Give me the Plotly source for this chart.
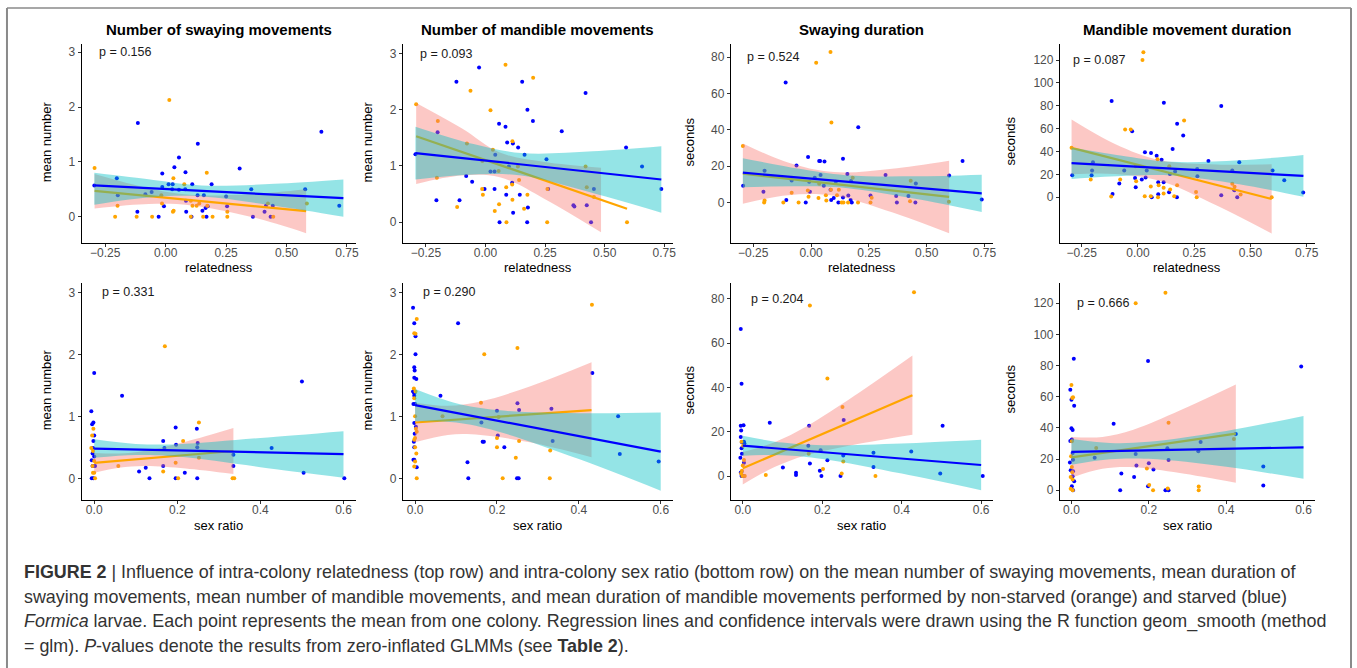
import plotly.graph_objects as go

W, H = 1357, 668

# ---------------- DATA ----------------
titles = ["Number of swaying movements", "Number of mandible movements",
          "Swaying duration", "Mandible movement duration"]
y_titles = ["mean number", "mean number", "seconds", "seconds"]
x_titles = ["relatedness", "sex ratio"]
p_values = ["p = 0.156", "p = 0.093", "p = 0.524", "p = 0.087",
            "p = 0.331", "p = 0.290", "p = 0.204", "p = 0.666"]
p_pos_x = [-0.285, -0.284, -0.287, -0.298, 0.015, 0.0155, 0.015, 0.009]
p_pos_y = [3.0, 3.0, 80, 120, 3.0, 3.0, 80, 120]

top_x_ticks = [-0.25, 0.0, 0.25, 0.5, 0.75]
top_x_labels = ["\u22120.25", "0.00", "0.25", "0.50", "0.75"]
bot_x_ticks = [0.0, 0.2, 0.4, 0.6]
bot_x_labels = ["0.0", "0.2", "0.4", "0.6"]
num_y_ticks = [0, 1, 2, 3]
sec_y_ticks = [0, 20, 40, 60, 80]
sec2_y_ticks = [0, 20, 40, 60, 80, 100, 120]

# Panel 1: swaying number vs relatedness
p1_ns_x = [-0.294, -0.199, -0.209, -0.12, -0.056, -0.018, -0.015, 0.015, 0.032, 0.03, 0.033, 0.077, 0.104, 0.104,
           0.111, 0.128, 0.139, 0.155, 0.17, 0.172, 0.194, 0.255, 0.255, 0.423, 0.445, 0.584]
p1_ns_y = [0.89, 0.20, 0.0, 0.0, 0.0, 0.39, 0.24, 2.13, 0.70, 0.09, 0.11, 0.59, 0.29, 0.0,
           0.20, 0.20, 0.24, 0.0, 0.80, 0.20, 0.0, 0.09, 0.0, 0.24, 0.0, 0.24]
p1_s_x = [-0.295, -0.202, -0.198, -0.115, -0.117, -0.084, -0.058, -0.029, -0.014, -0.014, -0.007, 0.012, 0.029,
          0.027, 0.036, 0.055, 0.055, 0.082, 0.081, 0.084, 0.085, 0.107, 0.11, 0.133, 0.132, 0.158, 0.152, 0.165,
          0.174, 0.169, 0.19, 0.25, 0.254, 0.306, 0.354, 0.361, 0.409, 0.415, 0.434, 0.443, 0.577, 0.644, 0.718]
p1_s_y = [0.57, 0.70, 0.39, 1.71, 0.09, 0.41, 0.45, 0.0, 0.79, 0.54, 0.19, 0.59, 0.59,
          0.50, 0.90, 1.08, 0.49, 0.81, 0.50, 0.29, 0.09, 0.0, 0.59, 1.33, 0.39, 0.39, 0.11, 0.16,
          0.19, 0.0, 0.59, 0.37, 0.19, 0.88, 0.50, 0.0, 0.09, 0.20, 0.0, 0.20, 0.50, 1.55, 0.20]
p1_ns_line_x = [-0.294, 0.581]
p1_ns_line_y = [0.47, 0.10]
p1_s_line_x = [-0.295, 0.735]
p1_s_line_y = [0.57, 0.34]
p1_ns_band_x = [-0.294, -0.07, 0.10, 0.35, 0.581]
p1_ns_band_lo = [0.15, 0.23, 0.21, 0.0, -0.30]
p1_ns_band_hi = [0.78, 0.52, 0.40, 0.41, 0.50]
p1_s_band_x = [-0.295, -0.05, 0.15, 0.45, 0.735]
p1_s_band_lo = [0.22, 0.36, 0.37, 0.20, 0.0]
p1_s_band_hi = [0.80, 0.67, 0.57, 0.60, 0.68]

# Panel 2: mandible number vs relatedness
p2_ns_x = [-0.291, -0.2, -0.204, -0.119, -0.063, -0.078, -0.014, -0.011, -0.013, 0.021, 0.031, 0.039, 0.055, 0.057,
           0.084, 0.087, 0.088, 0.113, 0.112, 0.113, 0.136, 0.141, 0.162, 0.176, 0.2, 0.26, 0.259, 0.42, 0.425,
           0.455, 0.594]
p2_ns_y = [2.10, 1.80, 0.79, 0.27, 2.34, 1.40, 0.59, 0.49, 1.09, 1.99, 1.29, 0.20, 0.91, 0.32,
           2.80, 0.62, 0.0, 1.44, 0.67, 0.40, 0.99, 0.75, 0.24, 0.49, 2.57, 0.59, 0.0, 0.99, 0.62,
           0.45, 0.0]
p2_s_x = [-0.294, -0.201, -0.206, -0.122, -0.109, -0.081, -0.056, -0.027, -0.004, 0.021, 0.038, 0.041, 0.038,
          0.057, 0.059, 0.084, 0.091, 0.087, 0.098, 0.115, 0.112, 0.116, 0.137, 0.144, 0.154, 0.164, 0.176, 0.178,
          0.175, 0.199, 0.256, 0.263, 0.32, 0.369, 0.373, 0.42, 0.425, 0.443, 0.455, 0.59, 0.657, 0.738]
p2_s_y = [1.21, 1.60, 0.39, 2.50, 0.39, 0.82, 0.72, 2.75, 0.59, 0.90, 0.90, 1.20, 0.59,
          1.75, 0.0, 1.70, 1.42, 0.49, 0.99, 1.40, 0.70, 0.17, 1.33, 0.49, 2.50, 1.20, 2.0, 0.26,
          0.0, 1.80, 1.12, 0.59, 1.62, 0.30, 0.28, 2.30, 0.30, 0.0, 0.59, 1.33, 0.99, 0.59]
p2_ns_line_x = [-0.291, 0.594]
p2_ns_line_y = [1.53, 0.24]
p2_s_line_x = [-0.294, 0.738]
p2_s_line_y = [1.23, 0.76]
p2_ns_band_x = [-0.291, -0.1, 0.06, 0.25, 0.485]
p2_ns_band_lo = [0.68, 0.83, 0.80, 0.41, -0.18]
p2_ns_band_hi = [2.12, 1.67, 1.24, 1.07, 0.97]
p2_s_band_x = [-0.294, -0.05, 0.15, 0.45, 0.738]
p2_s_band_lo = [0.76, 0.85, 0.83, 0.52, 0.17]
p2_s_band_hi = [1.70, 1.39, 1.23, 1.26, 1.35]

# Panel 3: swaying duration vs relatedness
p3_ns_x = [-0.295, -0.201, -0.203, -0.12, -0.084, -0.054, -0.014, -0.011, 0.022, 0.032, 0.035, 0.064, 0.066,
           0.084, 0.088, 0.086, 0.112, 0.12, 0.132, 0.14, 0.16, 0.18, 0.203, 0.262, 0.257, 0.428, 0.431, 0.596]
p3_ns_y = [31.1, 1.1, 0, 0, 5.3, 0, 6.6, 3.1, 76.9, 2.4, 10.3, 4.0, 1.1,
           82.8, 44.0, 7.0, 4.0, 7.0, 0, 0, 0, 13.6, 0, 2.6, 0, 0.7, 12.0, 0.4]
p3_s_x = [-0.294, -0.201, -0.206, -0.11, -0.107, -0.084, -0.063, -0.023, -0.013, -0.005, -0.008, 0.016, 0.035,
          0.039, 0.041, 0.058, 0.055, 0.084, 0.087, 0.098, 0.107, 0.118, 0.138, 0.138, 0.157, 0.161, 0.171, 0.176,
          0.173, 0.204, 0.257, 0.322, 0.368, 0.371, 0.421, 0.453, 0.451, 0.597, 0.655, 0.738]
p3_s_y = [9.2, 17.5, 5.9, 66.0, 1.3, 12.1, 20.4, 0, 25.0, 5.9, 11.4, 13.6, 22.8,
          22.8, 15.1, 22.6, 9.2, 7.0, 1.3, 2.4, 11.4, 0, 24.1, 2.8, 15.6, 3.9, 1.3, 0,
          11.8, 41.4, 3.9, 15.1, 3.5, 0, 3.5, 10.5, 0, 14.9, 22.8, 1.7]
p3_ns_line_x = [-0.295, 0.597]
p3_ns_line_y = [15.8, 3.1]
p3_s_line_x = [-0.295, 0.738]
p3_s_line_y = [16.4, 5.0]
p3_ns_band_x = [-0.295, -0.1, 0.1, 0.35, 0.597]
p3_ns_band_lo = [-0.7, 4.0, 3.7, -5.4, -17.0]
p3_ns_band_hi = [32.5, 22.0, 16.7, 18.6, 23.0]
p3_s_band_x = [-0.295, -0.05, 0.15, 0.45, 0.738]
p3_s_band_lo = [8.4, 8.9, 8.0, 2.0, -5.3]
p3_s_band_hi = [24.4, 18.5, 15.0, 14.4, 15.3]

# Panel 4: mandible duration vs relatedness
p4_ns_x = [-0.295, -0.21, -0.119, -0.079, -0.057, -0.032, -0.008, -0.01, 0.03, 0.024, 0.02, 0.057, 0.057, 0.087,
           0.092, 0.089, 0.114, 0.114, 0.139, 0.143, 0.161, 0.174, 0.205, 0.258, 0.261, 0.419, 0.429, 0.456, 0.594]
p4_ns_y = [43.2, 15.5, 0.6, 15.5, 59.3, 59.3, 14.0, 27.0, 0.9, 126.7, 120.0, 9.3, 0.9, 33.3,
           10.5, 0, 8.2, 3.2, 27.2, 6.7, 0.9, 10.5, 67.2, 4.7, 0, 11.7, 9.1, 2.3, 0]
p4_s_x = [-0.292, -0.204, -0.206, -0.2, -0.113, -0.117, -0.083, -0.061, -0.026, -0.013, -0.01, 0.017, 0.031,
          0.034, 0.039, 0.058, 0.061, 0.083, 0.09, 0.09, 0.105, 0.115, 0.114, 0.138, 0.142, 0.154, 0.165, 0.174,
          0.173, 0.201, 0.263, 0.264, 0.313, 0.37, 0.37, 0.419, 0.428, 0.441, 0.45, 0.598, 0.65, 0.734]
p4_s_y = [19.3, 23.4, 19.3, 30.7, 2.9, 84.1, 12.0, 23.4, 57.8, 16.9, 8.8, 15.5, 39.4,
          17.2, 23.4, 38.8, 0, 36.2, 13.1, 2.6, 32.7, 82.6, 13.1, 4.4, 20.4, 42.3, 22.5, 64.2,
          0, 54.0, 24.8, 18.4, 31.8, 79.7, 1.8, 23.4, 6.1, 0, 30.7, 23.4, 14.9, 4.1]
p4_ns_line_x = [-0.295, 0.594]
p4_ns_line_y = [43.2, -1.5]
p4_s_line_x = [-0.295, 0.735]
p4_s_line_y = [29.8, 18.7]
p4_ns_band_x = [-0.295, -0.1, 0.1, 0.35, 0.594]
p4_ns_band_lo = [20.2, 20.4, 14.3, -7.3, -31.8]
p4_ns_band_hi = [68.0, 46.4, 32.3, 28.7, 28.8]
p4_s_band_x = [-0.295, -0.05, 0.15, 0.45, 0.735]
p4_s_band_lo = [15.9, 18.7, 19.0, 11.3, 0.4]
p4_s_band_hi = [43.6, 35.7, 31.0, 32.3, 37.0]

# Panel 5: swaying number vs sex ratio
p5_ns_x = [-0.005, -0.002, -0.007, -0.003, 0.0, -0.003, 0.0, 0.002, -0.004,
           0.058, 0.166, 0.17, 0.196, 0.202, 0.214, 0.252, 0.252, 0.333, 0.337]
p5_ns_y = [0.69, 0.80, 0.49, 0.44, 0.28, 0.09, 0.09, 0.0, 0.20,
           0.20, 0.11, 2.13, 0.25, 0.0, 0.60, 0.90, 0.33, 0.0, 0.0]
p5_s_x = [-0.007, -0.005, -0.002, 0.0, 0.0, -0.002, -0.003, -0.004, -0.006, -0.004, 0.002, -0.006, -0.002, 0.0,
          0.067, 0.108, 0.124, 0.133, 0.166, 0.166, 0.169, 0.196, 0.197, 0.196, 0.218, 0.247, 0.249, 0.248,
          0.248, 0.335, 0.335, 0.427, 0.5, 0.504, 0.602]
p5_s_y = [1.08, 0.87, 0.90, 1.70, 0.69, 0.60, 0.49, 0.40, 0.29, 0.20, 0.20, 0.0, 0.0, 0.35,
          1.33, 0.11, 0.17, 0.0, 0.60, 0.20, 0.49, 0.82, 0.54, 0.0, 0.09, 0.80, 0.57, 0.50,
          0.0, 0.38, 0.20, 0.49, 1.56, 0.09, 0.0]
p5_ns_line_x = [0.0, 0.335]
p5_ns_line_y = [0.25, 0.44]
p5_s_line_x = [0.0, 0.6]
p5_s_line_y = [0.48, 0.39]
p5_ns_band_x = [0.0, 0.06, 0.12, 0.22, 0.335]
p5_ns_band_lo = [0.09, 0.17, 0.20, 0.16, 0.07]
p5_ns_band_hi = [0.41, 0.40, 0.44, 0.59, 0.81]
p5_s_band_x = [0.0, 0.1, 0.2, 0.4, 0.6]
p5_s_band_lo = [0.33, 0.375, 0.35, 0.18, 0.01]
p5_s_band_hi = [0.63, 0.555, 0.55, 0.65, 0.76]

# Panel 6: mandible number vs sex ratio
p6_ns_x = [0.004, -0.002, 0.001, -0.003, 0.001, -0.002, 0.0, 0.002, 0.004, 0.0, -0.002, 0.0, 0.003, 0.0, -0.002,
           0.004, 0.067, 0.161, 0.169, 0.2, 0.2, 0.204, 0.214, 0.25, 0.246, 0.254, 0.33, 0.329, 0.432]
p6_ns_y = [2.57, 2.34, 2.33, 1.45, 1.40, 1.29, 1.0, 0.80, 0.75, 0.65, 0.62, 0.50, 0.40, 0.27, 0.19,
           0.0, 1.0, 1.22, 2.0, 0.65, 0.50, 0.99, 0.0, 2.10, 0.33, 0.60, 0.45, 0.0, 2.80]
p6_s_x = [-0.005, -0.002, 0.001, 0.001, -0.002, -0.001, -0.002, 0.003, -0.005, -0.002, -0.002, -0.004, 0.0,
          -0.002, 0.002, -0.001, -0.003, -0.002, -0.004, -0.002, 0.004,
          0.062, 0.105, 0.128, 0.13, 0.162, 0.165, 0.168, 0.2, 0.202, 0.218, 0.25, 0.254, 0.249, 0.253,
          0.333, 0.336, 0.433, 0.496, 0.5, 0.595]
p6_s_y = [2.75, 2.50, 2.29, 2.0, 1.79, 1.74, 1.62, 1.60, 1.40, 1.37, 1.33, 1.20, 1.20,
          0.89, 0.83, 0.72, 0.59, 0.50, 0.30, 0.30, 0.18,
          1.33, 2.50, 0.26, 0.0, 0.90, 0.59, 0.59, 1.09, 0.69, 0.50, 1.21, 1.10, 0.0, 0.0,
          1.12, 0.60, 1.70, 1.0, 0.39, 0.27]
p6_ns_line_x = [0.0, 0.431]
p6_ns_line_y = [0.9, 1.10]
p6_s_line_x = [0.0, 0.6]
p6_s_line_y = [1.18, 0.43]
p6_ns_band_x = [0.0, 0.08, 0.16, 0.28, 0.431]
p6_ns_band_lo = [0.58, 0.70, 0.70, 0.58, 0.34]
p6_ns_band_hi = [1.22, 1.17, 1.24, 1.48, 1.87]
p6_s_band_x = [0.0, 0.1, 0.2, 0.4, 0.6]
p6_s_band_lo = [0.92, 0.90, 0.76, 0.31, -0.20]
p6_s_band_hi = [1.44, 1.21, 1.10, 1.05, 1.06]

# Panel 7: swaying duration vs sex ratio
p7_ns_x = [-0.003, 0.001, 0.003, 0.0, -0.002, -0.004, -0.001, 0.005,
           0.058, 0.169, 0.166, 0.202, 0.213, 0.251, 0.253, 0.249, 0.334, 0.431]
p7_ns_y = [15.5, 13.7, 7.2, 4.8, 2.4, 1.1, 0.0, 0.0,
           0.5, 77.0, 10.1, 3.2, 44.0, 31.2, 6.6, 1.2, 0.0, 82.9]
p7_s_x = [-0.005, -0.003, -0.005, 0.002, -0.004, -0.005, -0.002, 0.003, 0.004, -0.003, -0.002, -0.006, 0.003,
          -0.003, -0.005, -0.003, 0.003,
          0.068, 0.101, 0.134, 0.134, 0.167, 0.165, 0.169, 0.196, 0.194, 0.198, 0.213, 0.254, 0.253, 0.246,
          0.329, 0.329, 0.424, 0.497, 0.503, 0.604]
p7_s_y = [66.3, 41.6, 22.7, 22.9, 20.6, 17.6, 15.2, 15.5, 14.8, 12.5, 10.1, 8.3, 6.0,
          2.0, 1.5, 0.0, 0.0,
          24.1, 3.9, 1.5, 0.5, 22.7, 13.7, 5.7, 11.6, 2.4, 0.0, 7.1, 25.3, 9.3, 0.0,
          10.5, 4.1, 11.1, 1.2, 22.7, 0.0]
p7_ns_line_x = [0.0, 0.427]
p7_ns_line_y = [3.5, 36.5]
p7_s_line_x = [0.0, 0.6]
p7_s_line_y = [13.7, 5.0]
p7_ns_band_x = [0.0, 0.08, 0.16, 0.28, 0.427]
p7_ns_band_lo = [-3.8, 4.1, 9.4, 14.1, 18.6]
p7_ns_band_hi = [10.8, 15.3, 22.4, 36.1, 54.4]
p7_s_band_x = [0.0, 0.1, 0.2, 0.4, 0.6]
p7_s_band_lo = [9.2, 9.4, 7.7, 1.1, -6.4]
p7_s_band_hi = [18.2, 15.1, 13.9, 14.7, 16.4]

# Panel 8: mandible duration vs sex ratio
p8_ns_x = [0.0, 0.004, 0.002, 0.001, -0.001, 0.001, 0.002, -0.002, 0.003, -0.002, 0.003,
           0.064, 0.166, 0.195, 0.201, 0.211, 0.243, 0.251, 0.249, 0.329, 0.329, 0.42]
p8_ns_y = [67.5, 59.6, 59.1, 31.4, 21.8, 14.9, 11.5, 8.5, 6.8, 0.9, 0.0,
           27.1, 120.0, 13.9, 3.4, 0.0, 126.8, 43.3, 1.1, 2.3, 0.0, 32.9]
p8_s_x = [0.006, -0.003, 0.0, 0.007, 0.0, 0.003, -0.003, 0.001, -0.004, 0.003, 0.004, -0.002, 0.004, 0.003,
          0.007, 0.001, 0.004,
          0.06, 0.109, 0.129, 0.126, 0.162, 0.166, 0.168, 0.2, 0.198, 0.198, 0.212, 0.243, 0.251, 0.248, 0.251,
          0.328, 0.334, 0.425, 0.496, 0.496, 0.594]
p8_s_y = [84.3, 64.5, 58.1, 54.2, 39.7, 38.6, 31.6, 32.5, 17.7, 23.9, 19.6, 12.8, 12.2, 9.0,
          5.8, 2.6, 0.0,
          20.9, 42.7, 10.7, 0.0, 8.5, 23.3, 15.8, 17.3, 82.9, 2.6, 13.2, 0.0, 0.0, 26.9, 19.4,
          25.0, 31.0, 36.1, 15.2, 3.0, 79.4]
p8_ns_line_x = [0.0, 0.425]
p8_ns_line_y = [21.1, 36.3]
p8_s_line_x = [0.0, 0.6]
p8_s_line_y = [24.6, 27.5]
p8_ns_band_x = [0.0, 0.08, 0.16, 0.28, 0.425]
p8_ns_band_lo = [8.0, 13.7, 14.8, 11.1, 4.8]
p8_ns_band_hi = [34.2, 34.2, 38.8, 51.1, 67.8]
p8_s_band_x = [0.0, 0.1, 0.2, 0.4, 0.6]
p8_s_band_lo = [16.4, 19.9, 20.1, 15.0, 7.3]
p8_s_band_hi = [32.8, 30.3, 31.1, 38.0, 47.7]

caption_lines = [
    "<b>FIGURE 2</b> | Influence of intra-colony relatedness (top row) and intra-colony sex ratio (bottom row) on the mean number of swaying movements, mean duration of",
    "swaying movements, mean number of mandible movements, and mean duration of mandible movements performed by non-starved (orange) and starved (blue)",
    "<i>Formica</i> larvae. Each point represents the mean from one colony. Regression lines and confidence intervals were drawn using the R function geom_smooth (method",
    "= glm). <i>P</i>-values denote the results from zero-inflated GLMMs (see <b>Table 2</b>).",
]

# ---------------- STYLE / LAYOUT ----------------
FONT = "Liberation Sans, Arial, Helvetica, sans-serif"
ORANGE = "#FFA500"
BLUE = "#0000FF"
PINK_FILL = "rgba(248,118,109,0.40)"
CYAN_FILL = "rgba(0,191,196,0.42)"

col_px = [(82, 357), (404, 675), (733, 996), (1063, 1319)]
row_px = [(44, 243), (283, 500)]
y_ranges = [[-0.48, 3.15], [-0.37, 3.17], [-22.3, 87.2], [-40, 134],
            [-0.35, 3.15], [-0.35, 3.15], [-10.8, 87.1], [-6.3, 133]]
x_ranges = [[-0.347, 0.787], [-0.03, 0.63]]
y_tick_sets = [num_y_ticks, num_y_ticks, sec_y_ticks, sec2_y_ticks,
               num_y_ticks, num_y_ticks, sec_y_ticks, sec2_y_ticks]
ytitle_px = [47, 369, 692, 1013]


def px_x(px):
    return px / W


def px_y(py):
    return 1 - py / H


panels = []
g = globals()
for i in range(8):
    k = i + 1
    panels.append(dict(
        ns_x=g[f"p{k}_ns_x"], ns_y=g[f"p{k}_ns_y"], s_x=g[f"p{k}_s_x"], s_y=g[f"p{k}_s_y"],
        ns_lx=g[f"p{k}_ns_line_x"], ns_ly=g[f"p{k}_ns_line_y"],
        s_lx=g[f"p{k}_s_line_x"], s_ly=g[f"p{k}_s_line_y"],
        ns_bx=g[f"p{k}_ns_band_x"], ns_blo=g[f"p{k}_ns_band_lo"], ns_bhi=g[f"p{k}_ns_band_hi"],
        s_bx=g[f"p{k}_s_band_x"], s_blo=g[f"p{k}_s_band_lo"], s_bhi=g[f"p{k}_s_band_hi"],
    ))

fig = go.Figure()
layout_axes = {}
annotations = []

for i, p in enumerate(panels):
    row, col = divmod(i, 4)
    xa = "x" if i == 0 else f"x{i+1}"
    ya = "y" if i == 0 else f"y{i+1}"
    xkey = "xaxis" if i == 0 else f"xaxis{i+1}"
    ykey = "yaxis" if i == 0 else f"yaxis{i+1}"
    c0, c1 = col_px[col]
    r0, r1 = row_px[row]
    axis_common = dict(showline=True, linecolor="black", linewidth=1.1, showgrid=False, zeroline=False,
                       ticks="outside", ticklen=3, tickwidth=1, tickcolor="#333333",
                       tickfont=dict(family=FONT, size=12, color="#4D4D4D"))
    layout_axes[xkey] = dict(axis_common, domain=[px_x(c0), px_x(c1)], anchor=ya,
                             range=x_ranges[row], ticklabelstandoff=-4,
                             tickvals=top_x_ticks if row == 0 else bot_x_ticks,
                             ticktext=top_x_labels if row == 0 else bot_x_labels)
    layout_axes[ykey] = dict(axis_common, domain=[px_y(r1), px_y(r0)], anchor=xa,
                             range=y_ranges[i], tickvals=y_tick_sets[i])

    # points
    fig.add_trace(go.Scatter(x=p["s_x"], y=p["s_y"], mode="markers", xaxis=xa, yaxis=ya,
                             marker=dict(color=BLUE, size=4), showlegend=False, hoverinfo="skip"))
    fig.add_trace(go.Scatter(x=p["ns_x"], y=p["ns_y"], mode="markers", xaxis=xa, yaxis=ya,
                             marker=dict(color=ORANGE, size=4), showlegend=False, hoverinfo="skip"))
    # non-starved smooth
    fig.add_trace(go.Scatter(x=p["ns_bx"], y=p["ns_blo"], mode="lines", xaxis=xa, yaxis=ya,
                             line=dict(width=0, shape="spline", smoothing=1.0), showlegend=False, hoverinfo="skip"))
    fig.add_trace(go.Scatter(x=p["ns_bx"], y=p["ns_bhi"], mode="lines", xaxis=xa, yaxis=ya, fill="tonexty",
                             fillcolor=PINK_FILL, line=dict(width=0, shape="spline", smoothing=1.0),
                             showlegend=False, hoverinfo="skip"))
    fig.add_trace(go.Scatter(x=p["ns_lx"], y=p["ns_ly"], mode="lines", xaxis=xa, yaxis=ya,
                             line=dict(color=ORANGE, width=2.2), showlegend=False, hoverinfo="skip"))
    # starved smooth
    fig.add_trace(go.Scatter(x=p["s_bx"], y=p["s_blo"], mode="lines", xaxis=xa, yaxis=ya,
                             line=dict(width=0, shape="spline", smoothing=1.0), showlegend=False, hoverinfo="skip"))
    fig.add_trace(go.Scatter(x=p["s_bx"], y=p["s_bhi"], mode="lines", xaxis=xa, yaxis=ya, fill="tonexty",
                             fillcolor=CYAN_FILL, line=dict(width=0, shape="spline", smoothing=1.0),
                             showlegend=False, hoverinfo="skip"))
    fig.add_trace(go.Scatter(x=p["s_lx"], y=p["s_ly"], mode="lines", xaxis=xa, yaxis=ya,
                             line=dict(color=BLUE, width=2.2), showlegend=False, hoverinfo="skip"))

    # p-value label
    annotations.append(dict(x=p_pos_x[i], y=p_pos_y[i], xref=xa, yref=ya, text=p_values[i],
                            showarrow=False, xanchor="left", yanchor="middle",
                            font=dict(family=FONT, size=12.5, color="#1a1a1a")))
    # y-axis title
    annotations.append(dict(x=px_x(ytitle_px[col]), y=px_y((r0 + r1) / 2 - 2), xref="paper", yref="paper",
                            text=y_titles[col], textangle=-90, showarrow=False,
                            xanchor="center", yanchor="middle",
                            font=dict(family=FONT, size=13, color="black")))
    # x-axis title
    annotations.append(dict(x=px_x((c0 + c1) / 2), y=px_y(267 if row == 0 else 525), xref="paper", yref="paper",
                            text=x_titles[row], showarrow=False, xanchor="center", yanchor="middle",
                            font=dict(family=FONT, size=13, color="black")))
    if row == 0:
        annotations.append(dict(x=px_x((c0 + c1) / 2), y=px_y(30), xref="paper", yref="paper",
                                text=f"<b>{titles[col]}</b>", showarrow=False, xanchor="center",
                                yanchor="middle", font=dict(family=FONT, size=15, color="black")))

cap_y = [572, 596.5, 621, 645.5]
for line, cy in zip(caption_lines, cap_y):
    annotations.append(dict(x=px_x(22), y=px_y(cy), xref="paper", yref="paper", text=line,
                            showarrow=False, xanchor="left", yanchor="middle",
                            font=dict(family=FONT, size=17.9, color="#333333")))

border = "#8a8a8a"
shapes = [
    dict(type="line", xref="paper", yref="paper", x0=px_x(7), x1=px_x(7), y0=px_y(8), y1=px_y(680),
         line=dict(color=border, width=2)),
    dict(type="line", xref="paper", yref="paper", x0=px_x(1355), x1=px_x(1355), y0=px_y(8), y1=px_y(680),
         line=dict(color=border, width=2)),
    dict(type="line", xref="paper", yref="paper", x0=px_x(7), x1=px_x(1355), y0=px_y(8), y1=px_y(8),
         line=dict(color=border, width=1.5)),
]

fig.update_layout(
    width=W, height=H, autosize=False,
    margin=dict(l=0, r=0, t=0, b=0, pad=0),
    paper_bgcolor="white", plot_bgcolor="white",
    showlegend=False,
    annotations=annotations, shapes=shapes,
    font=dict(family=FONT),
    **layout_axes,
)

fig.write_html("out.html")
